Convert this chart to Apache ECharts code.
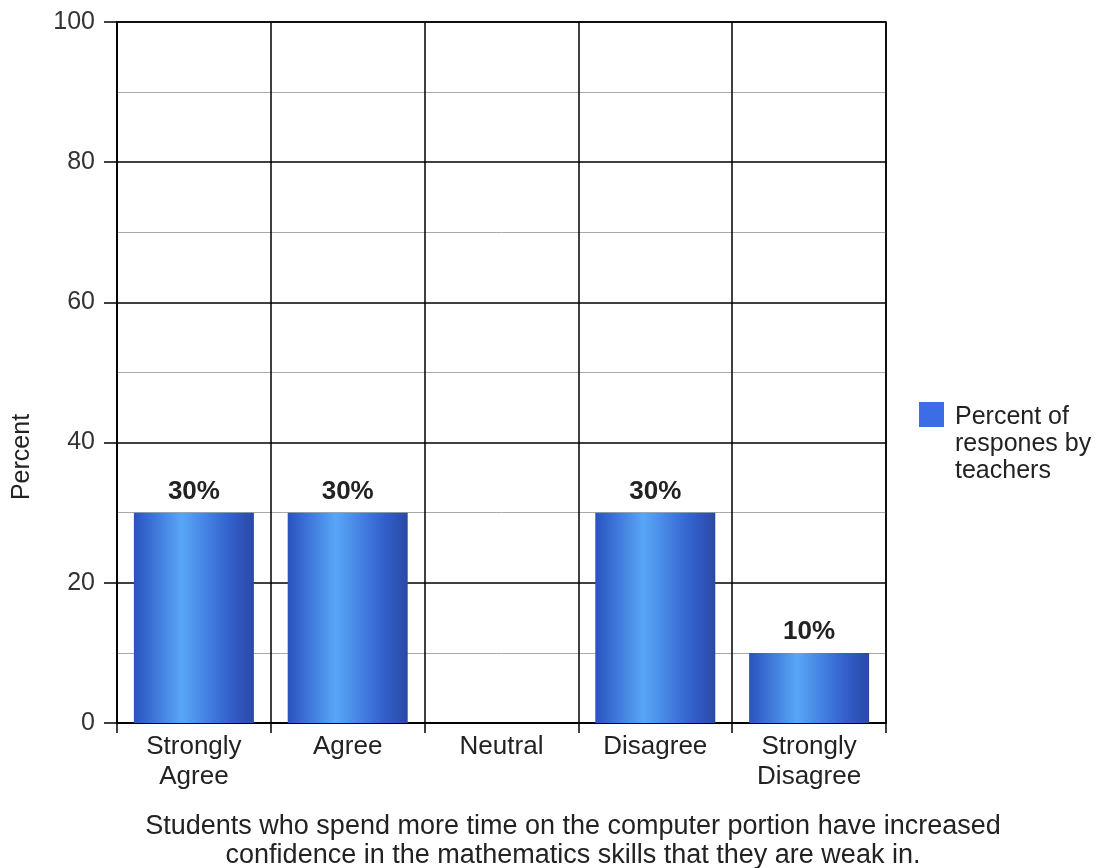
<!DOCTYPE html>
<html>
<head>
<meta charset="utf-8">
<script src="https://cdn.jsdelivr.net/npm/echarts@6/dist/echarts.min.js"></script>
<style>html,body{margin:0;padding:0;background:#fff}#c{width:1096px;height:868px}</style>
</head>
<body>
<div id="c"></div>
<script>
const categories = ['Strongly\nAgree', 'Agree', 'Neutral', 'Disagree', 'Strongly\nDisagree'];
const values = [30, 30, 0, 30, 10];
const seriesName = 'Percent of\nrespones by\nteachers';
const yTicks = [0, 20, 40, 60, 80, 100];
const yAxisTitle = 'Percent';
const chartCaption = 'Students who spend more time on the computer portion have increased\nconfidence in the mathematics skills that they are weak in.';

const FONT = '"Liberation Sans", Arial, sans-serif';
const chart = echarts.init(document.getElementById('c'));
const barGradient = new echarts.graphic.LinearGradient(0, 0, 1, 0, [
  {offset: 0, color: '#2a52bf'},
  {offset: 0.4, color: '#58a6f8'},
  {offset: 0.8, color: '#3360cc'},
  {offset: 1, color: '#2a49a4'}
]);
chart.setOption({
  animation: false,
  textStyle: {fontFamily: FONT},
  grid: {left: 117, right: 210, top: 22, bottom: 145, show: true, borderColor: '#000', borderWidth: 1.5},
  legend: {
    left: 919, top: 347, orient: 'vertical', padding: 0,
    itemWidth: 25, itemHeight: 25, icon: 'rect',
    data: [{name: seriesName, itemStyle: {color: '#3b6de6'}}],
    formatter: n => '\n\n' + n.split('\n').map(s => '{t|' + s + '}').join('\n'),
    textStyle: {
      fontSize: 25, color: '#222', lineHeight: 27, fontFamily: FONT,
      rich: {t: {fontSize: 25, lineHeight: 27, color: '#222', fontFamily: FONT, padding: [6, 0, 0, 6]}}
    },
    itemGap: 10
  },
  xAxis: {
    type: 'category', data: categories,
    axisLine: {lineStyle: {color: '#000', width: 1.5}},
    axisTick: {show: true, length: 10, lineStyle: {color: '#000', width: 1.5}},
    axisLabel: {color: '#222', fontSize: 26, lineHeight: 30, margin: 9, fontFamily: FONT},
    splitLine: {show: true, lineStyle: {color: '#000', width: 1.5}}
  },
  yAxis: {
    type: 'value', min: yTicks[0], max: yTicks[yTicks.length - 1], interval: 20,
    axisLine: {show: true, lineStyle: {color: '#000', width: 1.5}},
    axisTick: {show: true, length: 13, lineStyle: {color: '#000', width: 1.5}},
    axisLabel: {color: '#333', fontSize: 25, margin: 22, fontFamily: FONT},
    splitLine: {show: true, lineStyle: {color: '#000', width: 1.5}},
    minorTick: {show: false, splitNumber: 2},
    minorSplitLine: {show: true, lineStyle: {color: '#aaa', width: 1}}
  },
  series: [{
    name: seriesName, type: 'bar', data: values, barWidth: 120,
    itemStyle: {color: barGradient},
    label: {
      show: true, position: 'top', distance: 8,
      fontSize: 26, fontWeight: 'bold', color: '#222', fontFamily: FONT,
      formatter: p => p.value > 0 ? p.value + '%' : ''
    },
    z: 3
  }],
  graphic: [
    {type: 'text', x: 22, y: 457, rotation: Math.PI / 2,
     style: {text: yAxisTitle, fontSize: 25, fill: '#222', fontFamily: FONT, align: 'center', verticalAlign: 'middle'}},
    {type: 'text', x: 573, y: 841,
     style: {text: chartCaption, fontSize: 27, lineHeight: 29, fill: '#222', fontFamily: FONT, align: 'center', verticalAlign: 'middle'}}
  ]
});
</script>
</body>
</html>
